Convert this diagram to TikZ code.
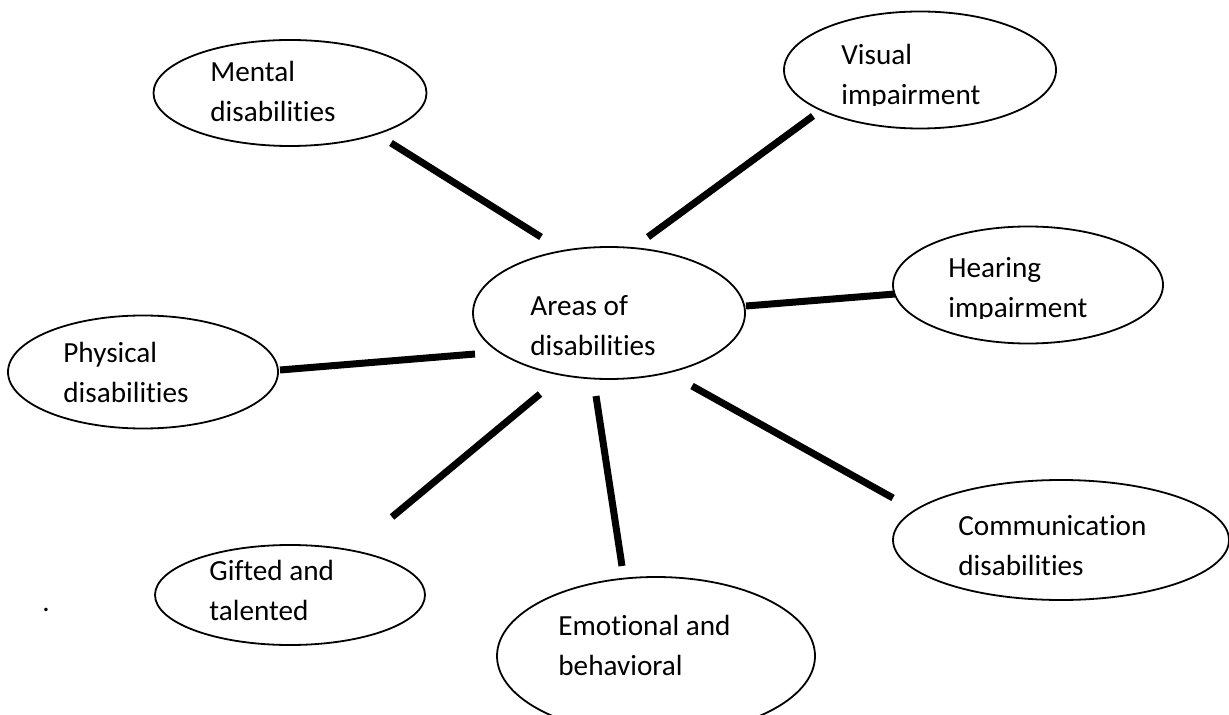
\documentclass[tikz,border=0pt]{standalone}
\usepackage{fontspec}
\setmainfont{Carlito}[Ligatures=NoCommon]
\usetikzlibrary{shapes.geometric}
\begin{document}
\begin{tikzpicture}[x=0.5pt,y=-0.5pt,
  bubble/.style args={#1/#2}{ellipse, draw, line width=0.9pt, inner sep=0pt,
    minimum width=#1*0.5pt, minimum height=#2*0.5pt},
  btext/.style={anchor=base west, align=left, inner sep=0pt,
    font=\fontsize{14.6pt}{20pt}\selectfont},
  spoke/.style={line width=3.5pt}]
\clip (0,0) rectangle (1229,715);

% outer bubbles and the hub
\node[bubble=273/106] (mental) at (290,93) {};
\node[bubble=272/117] (visual) at (920,70) {};
\node[bubble=270/117] (hearing) at (1028,285) {};
\node[bubble=272/132] (areas) at (609,313) {};
\node[bubble=270/113] (physical) at (143,372) {};
\node[bubble=270/100] (gifted) at (290,595) {};
\node[bubble=318/158] (emotional) at (656,656) {};
\node[bubble=336/120] (communication) at (1061,540) {};

% captions (some cut off by their text frames); anchored on the last line
\begin{scope}\clip (150,30) rectangle (430,123);
  \node[btext] (mentaltext) at (210,122) {Mental\\disabilities};
\end{scope}
\begin{scope}\clip (780,10) rectangle (1060,106);
  \node[btext] (visualtext) at (841,105) {Visual\\impairment};
\end{scope}
\begin{scope}\clip (890,220) rectangle (1170,319);
  \node[btext] (hearingtext) at (948,318) {Hearing\\impairment};
\end{scope}
\node[btext] (areastext) at (530,356) {Areas of\\disabilities};
\node[btext] (physicaltext) at (63,402) {Physical\\disabilities};
\begin{scope}\clip (150,540) rectangle (430,621);
  \node[btext] (giftedtext) at (209,620) {Gifted and\\talented};
\end{scope}
\node[btext] (emotionaltext) at (558,675) {Emotional and\\behavioral};
\begin{scope}\clip (890,475) rectangle (1229,576);
  \node[btext] (communicationtext) at (958,575) {Communication\\disabilities};
\end{scope}
\node[btext] (dot) at (42,611) {.};

% spoke end points
\coordinate (m1) at (391,143); \coordinate (m2) at (541,237);
\coordinate (v1) at (813,116); \coordinate (v2) at (648,237);
\coordinate (h1) at (746,306); \coordinate (h2) at (895,294);
\coordinate (p1) at (280,370); \coordinate (p2) at (475,354);
\coordinate (g1) at (392,517); \coordinate (g2) at (540,394);
\coordinate (e1) at (596,396); \coordinate (e2) at (622,566);
\coordinate (c1) at (692,386); \coordinate (c2) at (893,498);

\draw[spoke] (m1) -- (m2);
\draw[spoke] (v1) -- (v2);
\draw[spoke] (h1) -- (h2);
\draw[spoke] (p1) -- (p2);
\draw[spoke] (g1) -- (g2);
\draw[spoke] (e1) -- (e2);
\draw[spoke] (c1) -- (c2);
\end{tikzpicture}
\end{document}
